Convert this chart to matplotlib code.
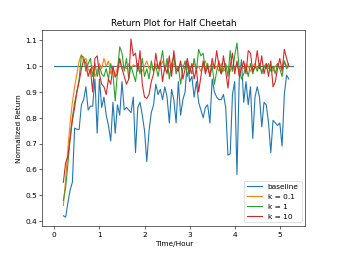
import numpy as np
import matplotlib
matplotlib.use("Agg")
import matplotlib.pyplot as plt

# time grid (hours), one sample every 0.05 h
time = np.round(np.arange(0.2, 5.2001, 0.05), 2)

baseline = [0.42, 0.415, 0.47, 0.52, 0.55, 0.76, 0.755, 0.755, 0.85, 0.87,
            0.92, 0.83, 0.845, 0.845, 0.95, 0.74, 0.95, 0.84, 0.88, 0.81,
            0.77, 0.71, 0.86, 0.74, 0.85, 0.81, 0.94, 0.83, 0.84, 0.83,
            0.82, 0.88, 0.665, 0.84, 0.86, 0.81, 0.75, 0.63, 0.75, 0.82,
            0.85, 0.93, 0.89, 0.91, 0.87, 0.92, 0.88, 0.78, 0.91, 0.87,
            0.78, 0.94, 0.81, 0.87, 0.90, 1.025, 0.94, 0.96, 0.88, 0.94,
            0.86, 0.83, 0.80, 0.84, 0.85, 0.78, 0.95, 0.90, 0.88, 0.87,
            0.87, 0.89, 0.84, 0.655, 0.66, 0.89, 0.94, 0.58, 0.95, 1.025,
            0.86, 0.94, 0.85, 0.92, 0.72, 0.88, 0.92, 0.88, 0.765, 0.86,
            0.85, 0.78, 0.665, 0.79, 0.78, 0.77, 0.78, 0.69, 0.89, 0.965,
            0.95]

k01 = [0.46, 0.56, 0.68, 0.78, 0.86, 0.92, 0.97, 1.02, 1.045, 1.02,
       1.03, 0.99, 0.97, 1.00, 0.96, 0.98, 1.01, 0.99, 1.03, 1.00,
       1.02, 0.97, 0.99, 0.955, 1.00, 1.02, 0.99, 1.00, 0.99, 1.01,
       0.99, 1.005, 1.00, 1.01, 0.99, 0.98, 1.00, 1.02, 0.99, 1.00,
       0.98, 1.01, 0.99, 1.00, 1.02, 0.99, 1.01, 1.00, 0.98, 1.01,
       1.00, 0.99, 1.01, 1.00, 0.99, 1.02, 0.99, 1.00, 1.01, 0.99,
       1.00, 0.98, 1.00, 1.02, 0.99, 1.00, 1.01, 0.99, 1.00, 0.98,
       1.01, 0.98, 0.99, 1.00, 0.98, 1.00, 0.99, 1.01, 0.98, 1.00,
       0.99, 1.01, 1.00, 0.98, 1.00, 1.01, 0.99, 1.00, 0.98, 1.00,
       1.01, 0.99, 1.00, 0.98, 1.00, 1.01, 0.99, 1.00, 1.02, 1.00,
       1.01]

k1 = [0.48, 0.53, 0.62, 0.72, 0.80, 0.86, 0.90, 0.95, 1.04, 1.035,
      0.98, 1.01, 1.03, 0.96, 1.01, 0.96, 1.00, 0.97, 0.96, 0.99,
      0.95, 1.01, 0.97, 0.865, 0.98, 1.075, 1.05, 0.98, 1.03, 0.95,
      1.00, 0.97, 0.94, 1.01, 0.97, 1.03, 0.96, 0.99, 0.95, 1.02,
      0.98, 1.00, 0.96, 1.01, 1.06, 0.98, 1.03, 0.95, 1.01, 1.04,
      0.97, 1.00, 0.93, 0.99, 1.02, 0.96, 1.00, 0.97, 1.03, 0.98,
      1.065, 1.04, 1.05, 0.98, 1.01, 0.96, 1.00, 0.93, 0.98, 1.02,
      0.97, 0.99, 1.01, 0.96, 1.06, 0.98, 1.04, 1.09, 0.99, 0.95,
      0.97, 1.00, 0.96, 1.01, 0.97, 1.00, 0.98, 1.01, 0.97, 1.00,
      0.99, 1.01, 0.98, 1.00, 0.97, 1.01, 0.99, 0.96, 1.02, 0.99,
      1.00]

k10 = [0.55, 0.625, 0.65, 0.72, 0.79, 0.84, 0.90, 0.94, 0.99, 1.025,
       1.01, 0.96, 0.99, 0.90, 1.03, 1.04, 0.97, 0.93, 0.92, 0.89,
       0.95, 0.93, 1.00, 0.96, 0.97, 1.03, 0.99, 0.96, 0.93, 0.95,
       1.105, 1.04, 1.05, 0.98, 1.06, 0.93, 0.88, 0.875, 0.89, 0.94,
       0.97, 1.05, 0.99, 1.02, 0.94, 1.00, 0.97, 1.04, 0.96, 1.06,
       0.99, 0.98, 1.02, 0.95, 0.99, 1.03, 0.97, 1.01, 0.95, 0.99,
       0.90, 0.96, 1.02, 0.97, 1.00, 0.96, 1.03, 0.99, 1.06, 1.00,
       0.97, 1.04, 0.98, 0.915, 1.00, 1.05, 0.97, 1.02, 0.96, 0.99,
       1.02, 0.97, 1.06, 1.05, 0.98, 1.00, 1.06, 0.99, 1.04, 0.97,
       1.01, 0.96, 1.02, 0.92, 0.94, 0.99, 1.03, 0.98, 1.065, 1.03,
       1.00]

ref_x = [0, 5.3]
ref_y = [1.0, 1.0]

fig = plt.figure(figsize=(6.4, 4.8), dpi=53)
plt.plot(ref_x, ref_y, color='C0')
plt.plot(time, baseline, color='C0', label='baseline')
plt.plot(time, k01, color='C1', label='k = 0.1')
plt.plot(time, k1, color='C2', label='k = 1')
plt.plot(time, k10, color='C3', label='k = 10')
plt.title('Return Plot for Half Cheetah')
plt.xlabel('Time/Hour')
plt.ylabel('Normalized Return')
plt.legend(loc='lower right')
plt.savefig('out.png', dpi=53)
